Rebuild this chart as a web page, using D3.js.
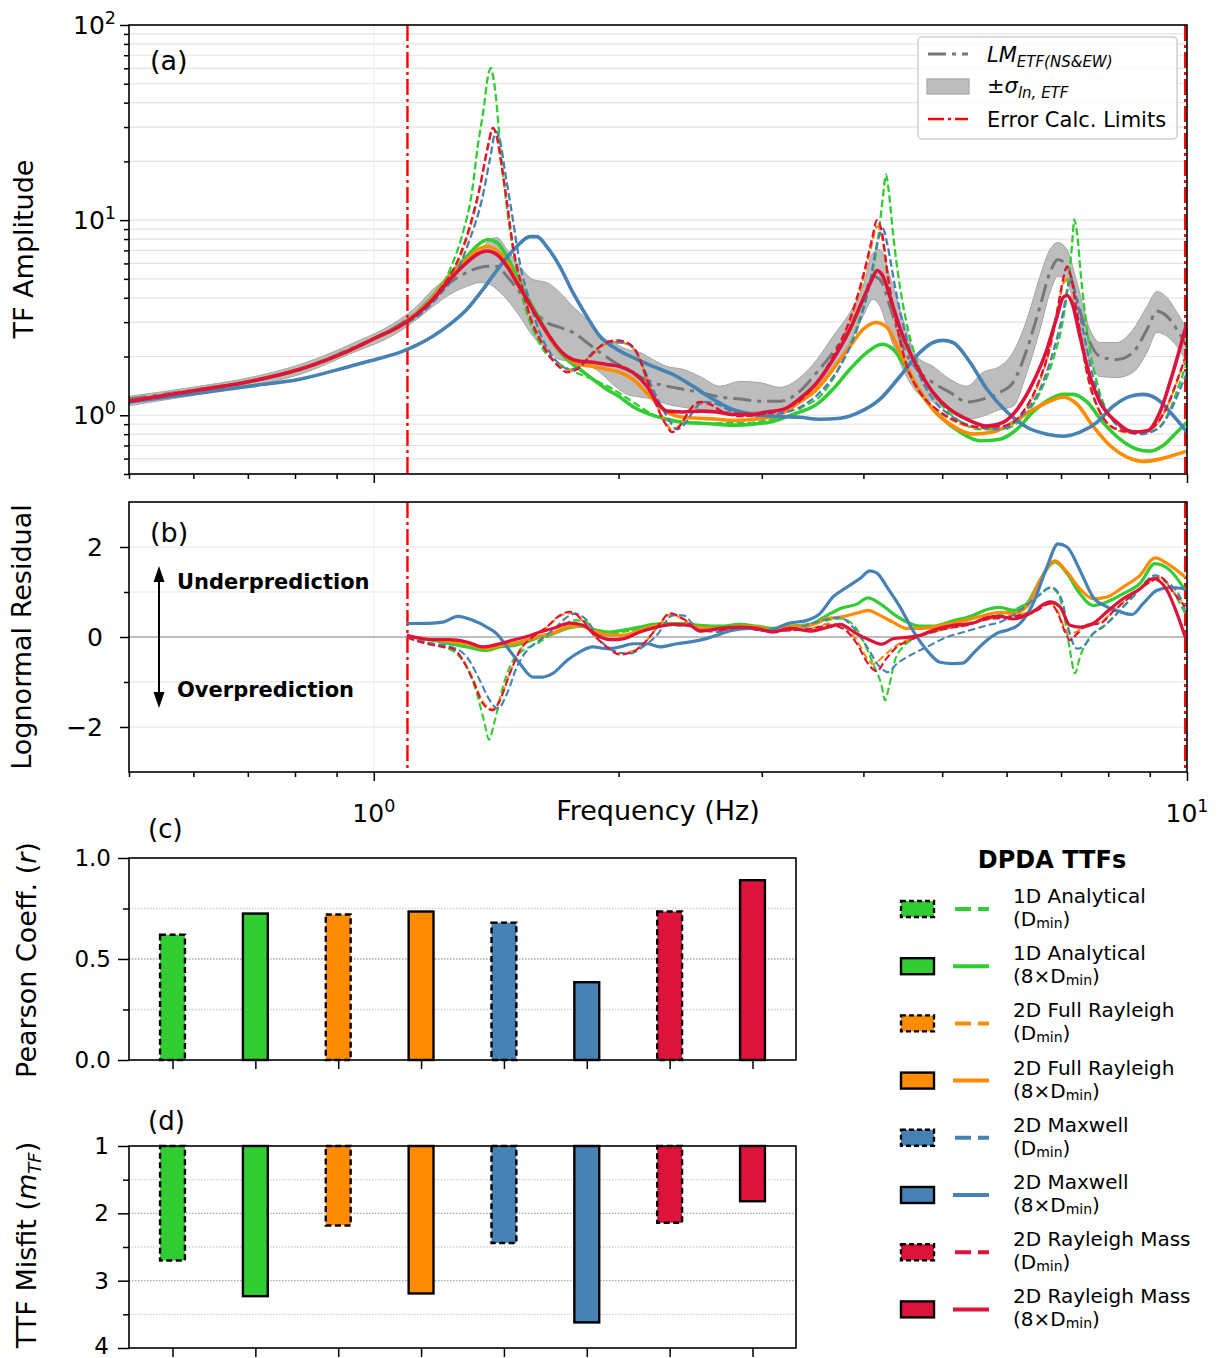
<!DOCTYPE html>
<html>
<head>
<meta charset="utf-8">
<script src="https://d3js.org/d3.v7.min.js"></script>
<style>
body { margin: 0; background: #fff; }
svg { font-family: "DejaVu Sans", sans-serif; }
</style>
</head>
<body>
<svg id="chart" width="1218" height="1358"></svg>
<script>
// ---------- data ----------
// measured ETF: lognormal median and +/- sigma band
const lmFreq = [0.5,0.611,0.704,0.811,0.934,1.076,1.129,1.182,1.240,1.301,1.350,1.389,1.417,1.458,1.512,1.569,1.632,1.693,1.757,1.828,1.897,1.968,2.047,2.124,2.204,2.293,2.399,2.518,2.665,2.821,2.985,3.158,3.342,3.507,3.670,3.850,3.995,4.110,4.193,4.313,4.474,4.655,4.871,5.111,5.363,5.612,5.888,6.109,6.356,6.595,6.784,6.940,7.120,7.323,7.598,7.816,8.201,8.583,8.929,9.186,9.450,9.721,10];
const lmMedian = [1.21,1.36,1.49,1.72,2.18,2.92,3.36,4.06,4.79,5.39,5.72,5.80,5.80,5.15,4.26,3.48,2.99,2.82,2.66,2.36,2.10,1.89,1.72,1.58,1.47,1.41,1.36,1.31,1.24,1.21,1.18,1.18,1.33,1.66,2.10,2.85,3.92,5.15,4.96,3.61,2.25,1.72,1.47,1.31,1.17,1.21,1.31,1.47,2.18,3.61,5.39,6.28,5.80,3.92,2.36,2.00,1.93,2.10,2.75,3.41,3.21,2.75,2.25];
const sigmaHi = [1.25,1.41,1.56,1.82,2.30,3.10,3.61,4.41,5.15,6.06,6.81,7.95,8.14,7.07,5.80,4.96,4.79,4.26,3.61,3.10,2.54,2.36,2.18,2.10,1.93,1.78,1.72,1.58,1.41,1.49,1.47,1.39,1.56,1.93,2.54,3.36,4.57,6.81,7.07,5.15,3.10,2.00,1.78,1.53,1.41,1.66,1.78,2.10,3.10,5.15,7.07,7.67,7.07,4.79,2.75,2.36,2.36,2.75,3.61,4.31,4.01,3.36,2.75];
const sigmaLo = [1.12,1.28,1.41,1.62,2.06,2.69,3.10,3.61,4.16,4.57,4.79,4.68,4.41,3.92,3.21,2.54,2.18,1.93,1.89,1.82,1.66,1.44,1.28,1.24,1.21,1.14,1.10,1.07,1.04,1.05,1.04,1.05,1.17,1.41,1.78,2.36,3.21,3.92,3.61,2.54,1.72,1.31,1.17,1.07,0.954,0.99,1.07,1.11,1.66,2.75,4.26,5.15,4.79,3.21,1.87,1.58,1.56,1.66,2.10,2.66,2.54,2.25,1.87];

// theoretical TFs [freq Hz, amplitude]
const tfLow = [[0.5,1.18],[0.611,1.35],[0.704,1.49],[0.811,1.72],[0.934,2.15],[1.017,2.55],[1.076,2.86]];

const tf1DDmin = tfLow.concat([[1.139,3.28],[1.206,4.41],[1.251,6.06],[1.287,8.63],[1.320,13.8],[1.342,23.8],[1.366,38.1],[1.381,54.2],[1.393,60.2],[1.401,55.4],[1.417,38.1],[1.429,24.9],[1.449,14.3],[1.470,8.95],[1.499,5.58],[1.534,3.61],[1.569,2.75],[1.614,2.18],[1.679,1.87],[1.757,1.68],[1.859,1.53],[1.968,1.36],[2.082,1.17],[2.204,1.01],[2.332,0.93],[2.468,0.92],[2.642,0.91],[2.821,0.91],[3.044,0.94],[3.277,1.01],[3.342,1.08],[3.537,1.25],[3.743,1.78],[3.927,2.85],[4.075,4.79],[4.169,7.95],[4.228,13.2],[4.264,17.1],[4.300,13.8],[4.349,8.63],[4.436,4.57],[4.539,2.75],[4.695,1.72],[4.926,1.21],[5.213,0.954],[5.564,0.848],[5.940,0.848],[6.284,0.977],[6.595,1.31],[6.843,1.93],[7.040,3.10],[7.160,5.15],[7.241,8.63],[7.262,10.1],[7.323,8.63],[7.407,5.15],[7.534,2.75],[7.750,1.47],[8.041,0.99],[8.438,0.848],[8.829,0.82],[9.186,0.848],[9.531,1.07],[9.804,1.47],[10,1.87]]);

const tf1D8 = tfLow.concat([[1.182,4.06],[1.240,5.26],[1.301,6.50],[1.350,7.59],[1.381,7.95],[1.417,7.67],[1.458,6.50],[1.499,5.15],[1.543,4.06],[1.600,3.10],[1.660,2.36],[1.728,1.93],[1.792,1.72],[1.859,1.53],[1.934,1.36],[2.007,1.24],[2.082,1.11],[2.186,1.01],[2.293,0.954],[2.399,0.92],[2.518,0.91],[2.642,0.90],[2.764,0.89],[2.926,0.90],[3.096,0.93],[3.277,1.01],[3.507,1.14],[3.670,1.36],[3.850,1.72],[4.041,2.10],[4.216,2.31],[4.349,2.18],[4.526,1.72],[4.735,1.25],[4.968,0.99],[5.258,0.82],[5.564,0.74],[5.888,0.754],[6.179,0.848],[6.465,1.04],[6.784,1.21],[7.040,1.28],[7.241,1.28],[7.534,1.17],[7.883,0.92],[8.272,0.754],[8.680,0.67],[9.006,0.655],[9.344,0.70],[9.721,0.82],[10,0.92]]);

const tfFRDmin = tfLow.concat([[1.139,3.38],[1.206,4.35],[1.265,5.9],[1.312,9.0],[1.350,14.5],[1.381,23.5],[1.401,29.5],[1.417,26.5],[1.437,18.6],[1.458,12.2],[1.483,7.3],[1.521,4.6],[1.556,3.25],[1.600,2.48],[1.646,2.03],[1.693,1.79],[1.728,1.70],[1.777,1.75],[1.844,2.0],[1.913,2.28],[1.990,2.38],[2.047,2.32],[2.106,2.08],[2.167,1.55],[2.229,1.13],[2.293,0.90],[2.326,0.84],[2.379,0.89],[2.448,1.06],[2.518,1.15],[2.591,1.13],[2.687,1.04],[2.821,0.99],[2.985,1.0],[3.185,1.06],[3.342,1.17],[3.507,1.44],[3.670,1.95],[3.850,3.0],[3.995,4.9],[4.098,7.6],[4.157,9.3],[4.216,8.2],[4.288,5.0],[4.399,2.8],[4.526,1.76],[4.695,1.30],[4.926,1.06],[5.213,0.92],[5.564,0.86],[5.940,0.87],[6.284,1.02],[6.539,1.38],[6.784,2.2],[6.940,3.5],[7.040,4.7],[7.140,5.0],[7.220,4.6],[7.323,3.3],[7.534,1.64],[7.816,1.03],[8.201,0.84],[8.583,0.81],[9.006,0.84],[9.450,1.10],[9.804,1.64],[10,2.05]]);

const tfFR8 = tfLow.concat([[1.182,4.01],[1.240,5.15],[1.301,6.28],[1.350,7.14],[1.381,7.32],[1.417,6.97],[1.458,6.06],[1.499,4.85],[1.543,3.92],[1.600,3.03],[1.660,2.36],[1.728,1.98],[1.792,1.82],[1.859,1.78],[1.934,1.72],[2.007,1.66],[2.082,1.53],[2.186,1.25],[2.293,1.04],[2.399,0.977],[2.518,0.965],[2.642,0.954],[2.764,0.94],[2.926,0.954],[3.096,0.98],[3.185,1.03],[3.342,1.17],[3.507,1.36],[3.670,1.72],[3.850,2.25],[3.995,2.75],[4.145,2.99],[4.276,2.82],[4.436,2.10],[4.655,1.41],[4.871,1.07],[5.155,0.88],[5.455,0.80],[5.773,0.82],[6.109,0.92],[6.465,1.07],[6.784,1.18],[7.040,1.24],[7.323,1.14],[7.663,0.88],[8.041,0.70],[8.438,0.61],[8.829,0.58],[9.265,0.596],[9.721,0.632],[10,0.655]]);

const tfMXDmin = tfLow.concat([[1.139,3.28],[1.206,4.16],[1.265,5.45],[1.312,7.95],[1.358,12.7],[1.389,20.4],[1.413,28.4],[1.429,25.8],[1.449,18.1],[1.478,10.9],[1.512,6.06],[1.556,3.78],[1.600,2.66],[1.646,2.10],[1.693,1.82],[1.743,1.72],[1.792,1.78],[1.859,2.10],[1.952,2.36],[2.024,2.36],[2.082,2.23],[2.142,1.78],[2.204,1.36],[2.293,0.99],[2.359,0.848],[2.399,0.88],[2.468,1.04],[2.540,1.17],[2.642,1.14],[2.764,1.04],[2.926,0.99],[3.096,1.01],[3.342,1.10],[3.537,1.31],[3.743,1.78],[3.927,2.75],[4.075,4.79],[4.169,7.95],[4.228,9.04],[4.276,7.67],[4.374,4.57],[4.500,2.66],[4.655,1.72],[4.871,1.21],[5.155,0.977],[5.517,0.868],[5.888,0.848],[6.231,0.977],[6.595,1.36],[6.843,2.10],[7.040,3.36],[7.140,4.57],[7.200,4.85],[7.282,4.26],[7.448,2.75],[7.663,1.58],[7.973,1.04],[8.343,0.848],[8.754,0.80],[9.186,0.848],[9.531,1.04],[9.804,1.36],[10,1.66]]);

const tfMX8 = [[0.5,1.17],[0.611,1.30],[0.704,1.41],[0.811,1.53],[0.934,1.78],[1.017,1.96],[1.076,2.10],[1.182,2.54],[1.240,2.92],[1.301,3.48],[1.362,4.41],[1.429,5.80],[1.499,7.32],[1.556,8.23],[1.587,8.23],[1.632,7.32],[1.693,5.80],[1.757,4.26],[1.828,3.21],[1.897,2.54],[1.990,2.18],[2.082,1.98],[2.204,1.78],[2.332,1.62],[2.468,1.41],[2.612,1.21],[2.764,1.07],[2.926,1.01],[3.096,0.99],[3.342,0.977],[3.537,0.954],[3.743,0.965],[3.961,1.04],[4.193,1.21],[4.436,1.58],[4.695,2.10],[4.871,2.36],[5.011,2.42],[5.155,2.36],[5.409,1.87],[5.675,1.36],[6.007,1.04],[6.356,0.868],[6.727,0.80],[7.040,0.781],[7.386,0.82],[7.750,0.92],[8.110,1.11],[8.510,1.25],[8.829,1.28],[9.186,1.21],[9.531,1.04],[10,0.82]];

const tfRMDmin = tfLow.concat([[1.139,3.41],[1.206,4.41],[1.265,6.06],[1.312,9.27],[1.350,14.8],[1.381,23.8],[1.401,29.7],[1.417,26.8],[1.437,18.8],[1.458,12.3],[1.483,7.32],[1.521,4.57],[1.556,3.21],[1.600,2.45],[1.646,2.00],[1.693,1.76],[1.728,1.66],[1.777,1.72],[1.844,2.00],[1.913,2.31],[1.990,2.42],[2.047,2.36],[2.106,2.10],[2.167,1.53],[2.229,1.11],[2.293,0.88],[2.326,0.82],[2.379,0.88],[2.448,1.07],[2.518,1.17],[2.591,1.14],[2.687,1.04],[2.821,0.99],[2.985,1.01],[3.185,1.07],[3.342,1.19],[3.507,1.47],[3.670,2.00],[3.850,3.10],[3.995,5.15],[4.098,7.95],[4.157,10.0],[4.216,8.63],[4.288,5.15],[4.399,2.85],[4.526,1.78],[4.695,1.31],[4.926,1.07],[5.213,0.93],[5.564,0.868],[5.940,0.88],[6.284,1.04],[6.539,1.41],[6.784,2.25],[6.940,3.61],[7.040,4.96],[7.120,5.80],[7.200,5.15],[7.323,3.36],[7.534,1.66],[7.816,1.04],[8.201,0.848],[8.583,0.82],[9.006,0.848],[9.450,1.11],[9.804,1.66],[10,2.10]]);

const tfRM8 = tfLow.concat([[1.182,3.92],[1.240,4.96],[1.301,6.06],[1.350,6.80],[1.377,6.95],[1.417,6.66],[1.458,5.80],[1.499,4.79],[1.543,3.92],[1.587,3.21],[1.632,2.66],[1.679,2.25],[1.728,2.00],[1.792,1.89],[1.859,1.87],[1.934,1.82],[2.007,1.78],[2.082,1.66],[2.167,1.41],[2.229,1.17],[2.293,1.05],[2.399,1.04],[2.518,1.05],[2.642,1.04],[2.764,1.01],[2.901,1.01],[3.044,1.04],[3.185,1.07],[3.342,1.22],[3.507,1.47],[3.670,1.93],[3.850,2.75],[3.995,3.92],[4.098,4.96],[4.157,5.52],[4.228,5.15],[4.349,3.61],[4.474,2.54],[4.655,1.78],[4.871,1.31],[5.111,1.07],[5.363,0.954],[5.675,0.88],[5.940,0.92],[6.179,1.07],[6.465,1.47],[6.727,2.18],[6.921,3.21],[7.040,4.01],[7.120,4.11],[7.220,3.78],[7.386,2.54],[7.598,1.58],[7.816,1.17],[8.201,0.92],[8.583,0.82],[8.929,0.83],[9.265,1.04],[9.612,1.66],[10,2.99]]);

// lognormal residuals [freq Hz, residual]
const res1DDmin = [[1.098,0],[1.162,-0.11],[1.216,-0.22],[1.265,-0.37],[1.301,-0.67],[1.339,-1.26],[1.369,-1.93],[1.385,-2.28],[1.409,-1.85],[1.441,-1.11],[1.483,-0.52],[1.525,-0.30],[1.587,-0.15],[1.632,0],[1.693,0.15],[1.757,0.37],[1.807,0.37],[1.881,0.11],[1.934,0.04],[1.990,0.09],[2.082,0.15],[2.204,0.24],[2.332,0.26],[2.518,0.23],[2.764,0.24],[3.096,0.16],[3.342,0.19],[3.608,0.37],[3.743,0.41],[3.884,0.28],[3.995,-0.07],[4.110,-0.59],[4.216,-1.11],[4.252,-1.41],[4.300,-1.11],[4.374,-0.52],[4.474,-0.22],[4.603,-0.04],[4.789,0.07],[5.068,0.19],[5.363,0.30],[5.675,0.41],[5.888,0.50],[6.231,0.67],[6.539,0.89],[6.784,1.10],[6.940,0.96],[7.079,0.37],[7.180,-0.30],[7.282,-0.81],[7.386,-0.44],[7.598,0],[7.883,0.22],[8.201,0.52],[8.583,0.89],[9.082,1.33],[9.450,1.19],[9.804,0.74],[9.95,0.52]];
const res1D8 = [[1.098,0],[1.182,-0.07],[1.240,-0.15],[1.301,-0.22],[1.377,-0.30],[1.429,-0.22],[1.483,-0.19],[1.543,-0.11],[1.600,0],[1.660,0.07],[1.728,0.19],[1.807,0.24],[1.881,0.15],[1.952,0.11],[2.024,0.15],[2.124,0.22],[2.204,0.28],[2.293,0.30],[2.399,0.30],[2.518,0.26],[2.665,0.24],[2.821,0.28],[2.958,0.24],[3.096,0.19],[3.249,0.24],[3.438,0.28],[3.608,0.48],[3.743,0.63],[3.927,0.73],[4.052,0.87],[4.193,0.74],[4.349,0.52],[4.526,0.33],[4.695,0.24],[4.871,0.24],[5.155,0.36],[5.455,0.48],[5.675,0.61],[5.888,0.66],[6.109,0.59],[6.356,0.74],[6.595,1.26],[6.880,1.67],[7.120,1.41],[7.386,0.96],[7.663,0.70],[7.973,0.78],[8.343,0.96],[8.754,1.19],[9.134,1.63],[9.531,1.48],[9.95,1.04]];
const resFRDmin = [[1.098,-0.01],[1.162,-0.14],[1.216,-0.21],[1.251,-0.25],[1.287,-0.50],[1.324,-0.93],[1.362,-1.44],[1.401,-1.60],[1.429,-1.38],[1.470,-0.80],[1.512,-0.30],[1.569,0],[1.632,0.22],[1.693,0.46],[1.743,0.53],[1.807,0.36],[1.859,0.07],[1.934,-0.20],[2.007,-0.36],[2.082,-0.31],[2.167,-0.07],[2.248,0.28],[2.313,0.50],[2.399,0.40],[2.518,0.17],[2.665,0.15],[2.821,0.22],[3.044,0.14],[3.277,0.16],[3.467,0.20],[3.639,0.30],[3.775,0.24],[3.927,-0.08],[4.052,-0.50],[4.110,-0.60],[4.193,-0.50],[4.252,-0.40],[4.399,-0.18],[4.564,-0.05],[4.789,0.08],[5.068,0.20],[5.363,0.27],[5.675,0.40],[5.888,0.45],[6.231,0.50],[6.539,0.62],[6.784,0.76],[6.940,0.56],[7.079,0.18],[7.180,0.07],[7.323,0.12],[7.534,0.28],[7.816,0.32],[8.110,0.58],[8.510,0.90],[9.006,1.22],[9.265,1.32],[9.612,1.02],[9.95,0.70]];
const resFR8 = [[1.098,0.02],[1.182,-0.06],[1.240,-0.10],[1.301,-0.15],[1.377,-0.26],[1.429,-0.19],[1.483,-0.15],[1.543,-0.07],[1.600,0.02],[1.660,0.09],[1.728,0.22],[1.807,0.26],[1.881,0.11],[1.952,0.04],[2.024,0.04],[2.124,0.15],[2.204,0.24],[2.293,0.28],[2.399,0.28],[2.518,0.21],[2.665,0.19],[2.821,0.24],[2.958,0.22],[3.096,0.16],[3.249,0.22],[3.438,0.26],[3.608,0.41],[3.743,0.44],[3.927,0.53],[4.052,0.59],[4.193,0.48],[4.349,0.33],[4.526,0.19],[4.695,0.19],[4.871,0.22],[5.155,0.31],[5.455,0.41],[5.675,0.50],[5.888,0.55],[6.109,0.52],[6.356,0.68],[6.595,1.26],[6.880,1.69],[7.120,1.44],[7.386,1.07],[7.663,0.85],[7.973,0.89],[8.343,1.11],[8.754,1.37],[9.134,1.76],[9.531,1.59],[9.95,1.33]];
const resMXDmin = [[1.098,-0.01],[1.162,-0.13],[1.240,-0.21],[1.301,-0.44],[1.350,-0.96],[1.389,-1.41],[1.421,-1.59],[1.458,-1.26],[1.499,-0.67],[1.543,-0.30],[1.600,-0.07],[1.660,0.15],[1.728,0.44],[1.767,0.52],[1.828,0.37],[1.897,-0.07],[1.968,-0.30],[2.065,-0.37],[2.142,-0.22],[2.229,0.04],[2.332,0.48],[2.399,0.48],[2.518,0.15],[2.665,0.11],[2.876,0.19],[3.096,0.13],[3.342,0.22],[3.567,0.37],[3.743,0.43],[3.884,0.22],[4.041,-0.22],[4.193,-0.67],[4.288,-0.78],[4.399,-0.59],[4.564,-0.41],[4.789,-0.22],[5.068,0],[5.363,0.13],[5.675,0.26],[5.888,0.33],[6.231,0.59],[6.539,0.89],[6.823,1.10],[7.020,0.81],[7.140,0.22],[7.323,-0.26],[7.448,-0.22],[7.663,0.07],[7.973,0.30],[8.343,0.67],[8.754,1.07],[9.134,1.37],[9.450,1.22],[9.804,0.89],[9.95,0.59]];
const resMX8 = [[1.098,0.30],[1.182,0.31],[1.216,0.33],[1.269,0.46],[1.324,0.37],[1.377,0.22],[1.417,0.07],[1.458,-0.22],[1.512,-0.59],[1.569,-0.89],[1.614,-0.89],[1.660,-0.81],[1.728,-0.52],[1.792,-0.33],[1.859,-0.22],[1.934,-0.26],[2.007,-0.22],[2.082,-0.15],[2.167,-0.15],[2.248,-0.22],[2.359,-0.15],[2.448,-0.11],[2.518,-0.07],[2.612,0.01],[2.764,0.15],[2.901,0.19],[3.044,0.15],[3.249,0.31],[3.41,0.37],[3.537,0.52],[3.670,0.89],[3.82,1.11],[3.961,1.30],[4.075,1.47],[4.157,1.42],[4.276,1.11],[4.436,0.67],[4.60,0.15],[4.79,-0.30],[4.968,-0.56],[5.155,-0.59],[5.30,-0.58],[5.455,-0.37],[5.675,-0.07],[5.888,0.11],[6.007,0.15],[6.231,0.30],[6.465,0.74],[6.727,1.56],[6.940,2.07],[7.120,2.00],[7.386,1.48],[7.663,0.89],[7.973,0.67],[8.272,0.56],[8.56,0.50],[8.829,0.74],[9.186,1.04],[9.531,1.10],[9.95,1.07]];
const resRMDmin = [[1.098,-0.01],[1.162,-0.15],[1.216,-0.22],[1.251,-0.26],[1.287,-0.52],[1.324,-0.96],[1.362,-1.48],[1.401,-1.63],[1.429,-1.41],[1.470,-0.81],[1.512,-0.30],[1.569,0],[1.632,0.22],[1.693,0.48],[1.743,0.56],[1.807,0.37],[1.859,0.07],[1.934,-0.22],[2.007,-0.39],[2.082,-0.33],[2.167,-0.07],[2.248,0.30],[2.313,0.53],[2.399,0.41],[2.518,0.15],[2.665,0.15],[2.821,0.22],[3.044,0.13],[3.277,0.15],[3.467,0.19],[3.639,0.26],[3.775,0.19],[3.927,-0.15],[4.052,-0.59],[4.157,-0.76],[4.252,-0.52],[4.399,-0.22],[4.564,-0.07],[4.789,0.07],[5.068,0.19],[5.363,0.26],[5.675,0.39],[5.888,0.42],[6.231,0.48],[6.539,0.59],[6.784,0.74],[6.940,0.52],[7.079,0.11],[7.180,-0.07],[7.323,0.07],[7.534,0.26],[7.816,0.30],[8.110,0.56],[8.510,0.89],[9.006,1.22],[9.265,1.33],[9.612,1.00],[9.95,0.67]];
const resRM8 = [[1.098,0.04],[1.182,-0.06],[1.240,-0.06],[1.301,-0.11],[1.362,-0.22],[1.429,-0.15],[1.483,-0.07],[1.543,0.01],[1.600,0.11],[1.660,0.19],[1.743,0.31],[1.807,0.26],[1.881,0.04],[1.952,-0.06],[2.024,-0.04],[2.124,0.11],[2.229,0.22],[2.332,0.28],[2.448,0.26],[2.518,0.13],[2.665,0.19],[2.821,0.22],[2.958,0.19],[3.096,0.11],[3.249,0.19],[3.438,0.13],[3.608,0.21],[3.743,0.28],[3.927,0.07],[4.075,-0.07],[4.216,-0.16],[4.349,-0.04],[4.526,-0.01],[4.695,0.04],[4.871,0.15],[5.155,0.26],[5.455,0.31],[5.675,0.43],[5.888,0.46],[6.109,0.40],[6.410,0.52],[6.784,0.78],[6.979,0.67],[7.180,0.26],[7.386,0.22],[7.663,0.30],[7.973,0.56],[8.343,0.85],[8.754,1.07],[9.082,1.30],[9.450,1.04],[9.721,0.52],[9.95,0.0]];

// error calculation limits (Hz)
const limitFreqs = [1.1, 9.95];

// bar panels, order: 1D Dmin, 1D 8xDmin, FR Dmin, FR 8x, MX Dmin, MX 8x, RM Dmin, RM 8x
const modelNames = ["1D Analytical", "1D Analytical", "2D Full Rayleigh", "2D Full Rayleigh", "2D Maxwell", "2D Maxwell", "2D Rayleigh Mass", "2D Rayleigh Mass"];
const isDmin = [true, false, true, false, true, false, true, false];
const pearsonR = [0.62, 0.725, 0.72, 0.735, 0.68, 0.385, 0.735, 0.89];
const misfit = [2.70, 3.23, 2.18, 3.19, 2.44, 3.62, 2.14, 1.82];
const modelColors = ["#32CD32", "#32CD32", "#FF8C00", "#FF8C00", "#4682B4", "#4682B4", "#DC143C", "#DC143C"];

const tfSeries = [tf1DDmin, tf1D8, tfFRDmin, tfFR8, tfMXDmin, tfMX8, tfRMDmin, tfRM8];
const resSeries = [res1DDmin, res1D8, resFRDmin, resFR8, resMXDmin, resMX8, resRMDmin, resRM8];

// ---------- layout ----------
const svg = d3.select("#chart");
const L = 129, R = 1187;
const aTop = 25, aBot = 474, bTop = 502, bBot = 772;
const cL = 129, cR = 796, cTop = 858, cBot = 1060, dTop = 1146, dBot = 1348;

const x = d3.scaleLog().domain([0.5, 10]).range([L, R]);
const yA = d3.scaleLog().domain([0.5, 100]).range([aBot, aTop]);
const yB = d3.scaleLinear().domain([-3, 3]).range([bBot, bTop]);
const xC = d3.scaleLinear().domain([-0.525, 7.525]).range([cL, cR]);
const yC = d3.scaleLinear().domain([0, 1]).range([cBot, cTop]);
const yD = d3.scaleLinear().domain([1, 4]).range([dTop, dBot]);

const DASH = "7.5,3.3";
const DASHDOT_RED = "16,4,3,4";

const defs = svg.append("defs");
defs.append("clipPath").attr("id", "clipA").append("rect").attr("x", L).attr("y", aTop).attr("width", R - L).attr("height", aBot - aTop);
defs.append("clipPath").attr("id", "clipB").append("rect").attr("x", L).attr("y", bTop).attr("width", R - L).attr("height", bBot - bTop);

function supText(g, px, py, base, exp, anchor, size) {
  const t = g.append("text").attr("x", px).attr("y", py).attr("text-anchor", anchor).attr("font-size", size);
  t.append("tspan").text(base);
  t.append("tspan").attr("dy", -size * 0.42).attr("font-size", size * 0.7).text(exp);
  return t;
}

function styleAxis(g) {
  g.select(".domain").remove();
  g.selectAll("line").attr("stroke", "#000").attr("stroke-width", 1.5);
}

// minor/major log ticks
const yMajorA = [1, 10, 100];
const yMinorA = [];
[0.1, 1, 10].forEach(dec => { for (let k = 2; k <= 9; k++) { const v = k * dec; if (v >= 0.5 && v < 100) yMinorA.push(+v.toFixed(2)); } });
const xMajor = [1, 10];
const xMinor = [0.5, 0.6, 0.7, 0.8, 0.9, 2, 3, 4, 5, 6, 7, 8, 9];

// ---------- panel (a) ----------
const gA = svg.append("g");
gA.selectAll(".hgrid").data(yMajorA.concat(yMinorA)).enter().append("line")
  .attr("x1", L).attr("x2", R).attr("y1", d => yA(d)).attr("y2", d => yA(d))
  .attr("stroke", "#e3e3e3").attr("stroke-width", 1.2);
gA.selectAll(".vgrid").data([1]).enter().append("line")
  .attr("x1", d => x(d)).attr("x2", d => x(d)).attr("y1", aTop).attr("y2", aBot)
  .attr("stroke", "#efefef").attr("stroke-width", 1.2);

const plotA = gA.append("g").attr("clip-path", "url(#clipA)");
const bandData = lmFreq.map((f, i) => ({ f: f, lo: sigmaLo[i], hi: sigmaHi[i], m: lmMedian[i] }));
plotA.append("path").datum(bandData)
  .attr("d", d3.area().x(d => x(d.f)).y0(d => yA(d.lo)).y1(d => yA(d.hi)).curve(d3.curveMonotoneX))
  .attr("fill", "#bdbdbd").attr("stroke", "#a5a5a5").attr("stroke-width", 1);
plotA.append("path").datum(bandData)
  .attr("d", d3.line().x(d => x(d.f)).y(d => yA(d.m)).curve(d3.curveMonotoneX))
  .attr("fill", "none").attr("stroke", "#777").attr("stroke-width", 3).attr("stroke-dasharray", "18,6,4,6");

plotA.selectAll(".lim").data(limitFreqs).enter().append("line")
  .attr("x1", d => x(d)).attr("x2", d => x(d)).attr("y1", aTop).attr("y2", aBot)
  .attr("stroke", "#FF0000").attr("stroke-width", 2.4).attr("stroke-dasharray", DASHDOT_RED);

const lineA = d3.line().x(d => x(d[0])).y(d => yA(d[1])).curve(d3.curveMonotoneX);
tfSeries.forEach((s, i) => {
  plotA.append("path").datum(s).attr("d", lineA).attr("fill", "none")
    .attr("stroke", modelColors[i])
    .attr("stroke-width", isDmin[i] ? 2.3 : 3.6)
    .attr("stroke-dasharray", isDmin[i] ? DASH : null)
    .attr("stroke-linejoin", "round");
});

// axes (a)
styleAxis(gA.append("g").attr("transform", `translate(${L},0)`).call(d3.axisLeft(yA).tickValues(yMajorA).tickSize(9).tickFormat("")));
styleAxis(gA.append("g").attr("transform", `translate(${L},0)`).call(d3.axisLeft(yA).tickValues(yMinorA).tickSize(5).tickFormat("")));
styleAxis(gA.append("g").attr("transform", `translate(0,${aBot})`).call(d3.axisBottom(x).tickValues(xMajor).tickSize(9).tickFormat("")));
styleAxis(gA.append("g").attr("transform", `translate(0,${aBot})`).call(d3.axisBottom(x).tickValues(xMinor).tickSize(5).tickFormat("")));
yMajorA.forEach(v => supText(gA, 116, yA(v) + 9, "10", String(Math.round(Math.log10(v))), "end", 25));
gA.append("rect").attr("x", L).attr("y", aTop).attr("width", R - L).attr("height", aBot - aTop)
  .attr("fill", "none").attr("stroke", "#000").attr("stroke-width", 1.6);
gA.append("text").attr("x", 150).attr("y", 70).attr("font-size", 27).text("(a)");
gA.append("text").attr("transform", "translate(33,249) rotate(-90)").attr("text-anchor", "middle").attr("font-size", 27).text("TF Amplitude");

// legend (a)
const lgA = gA.append("g");
lgA.append("rect").attr("x", 918).attr("y", 37).attr("width", 259).attr("height", 102).attr("rx", 4)
  .attr("fill", "#fff").attr("fill-opacity", 0.85).attr("stroke", "#cfcfcf").attr("stroke-width", 1.5);
lgA.append("line").attr("x1", 928).attr("x2", 968).attr("y1", 54).attr("y2", 54)
  .attr("stroke", "#777").attr("stroke-width", 3).attr("stroke-dasharray", "18,6,4,6");
const t1 = lgA.append("text").attr("x", 987).attr("y", 62).attr("font-size", 21).attr("font-style", "italic");
t1.append("tspan").text("LM");
t1.append("tspan").attr("dy", 5).attr("font-size", 15).text("ETF(NS&EW)");
lgA.append("rect").attr("x", 927).attr("y", 79).attr("width", 42).attr("height", 15)
  .attr("fill", "#bdbdbd").attr("stroke", "#a5a5a5").attr("stroke-width", 1.2);
const t2 = lgA.append("text").attr("x", 987).attr("y", 93).attr("font-size", 21);
t2.append("tspan").text("±");
t2.append("tspan").attr("font-style", "italic").text("σ");
t2.append("tspan").attr("dy", 5).attr("font-size", 15).attr("font-style", "italic").text("ln, ETF");
lgA.append("line").attr("x1", 928).attr("x2", 968).attr("y1", 119).attr("y2", 119)
  .attr("stroke", "#FF0000").attr("stroke-width", 2.4).attr("stroke-dasharray", DASHDOT_RED);
lgA.append("text").attr("x", 987).attr("y", 127).attr("font-size", 21).text("Error Calc. Limits");

// ---------- panel (b) ----------
const gB = svg.append("g");
gB.selectAll(".hgrid").data([-2, -1, 1, 2]).enter().append("line")
  .attr("x1", L).attr("x2", R).attr("y1", d => yB(d)).attr("y2", d => yB(d))
  .attr("stroke", "#e3e3e3").attr("stroke-width", 1.2);
gB.append("line").attr("x1", x(1)).attr("x2", x(1)).attr("y1", bTop).attr("y2", bBot)
  .attr("stroke", "#efefef").attr("stroke-width", 1.2);
gB.append("line").attr("x1", L).attr("x2", R).attr("y1", yB(0)).attr("y2", yB(0))
  .attr("stroke", "#bdbdbd").attr("stroke-width", 2);

const plotB = gB.append("g").attr("clip-path", "url(#clipB)");
plotB.selectAll(".lim").data(limitFreqs).enter().append("line")
  .attr("x1", d => x(d)).attr("x2", d => x(d)).attr("y1", bTop).attr("y2", bBot)
  .attr("stroke", "#FF0000").attr("stroke-width", 2.4).attr("stroke-dasharray", DASHDOT_RED);
const lineB = d3.line().x(d => x(d[0])).y(d => yB(d[1])).curve(d3.curveMonotoneX);
resSeries.forEach((s, i) => {
  plotB.append("path").datum(s).attr("d", lineB).attr("fill", "none")
    .attr("stroke", modelColors[i])
    .attr("stroke-width", isDmin[i] ? 2.1 : 3.2)
    .attr("stroke-dasharray", isDmin[i] ? DASH : null)
    .attr("stroke-linejoin", "round");
});

styleAxis(gB.append("g").attr("transform", `translate(${L},0)`).call(d3.axisLeft(yB).tickValues([-2, 0, 2]).tickSize(9).tickFormat("")));
styleAxis(gB.append("g").attr("transform", `translate(${L},0)`).call(d3.axisLeft(yB).tickValues([-1, 1]).tickSize(5).tickFormat("")));
styleAxis(gB.append("g").attr("transform", `translate(0,${bBot})`).call(d3.axisBottom(x).tickValues(xMajor).tickSize(9).tickFormat("")));
styleAxis(gB.append("g").attr("transform", `translate(0,${bBot})`).call(d3.axisBottom(x).tickValues(xMinor).tickSize(5).tickFormat("")));
[-2, 0, 2].forEach(v => {
  gB.append("text").attr("x", 103).attr("y", yB(v) + 9).attr("text-anchor", "end").attr("font-size", 25)
    .text(v < 0 ? "\u2212" + Math.abs(v) : String(v));
});
xMajor.forEach(v => supText(gB, x(v), 822, "10", String(Math.round(Math.log10(v))), "middle", 25));
gB.append("text").attr("x", (L + R) / 2).attr("y", 820).attr("text-anchor", "middle").attr("font-size", 27).text("Frequency (Hz)");
gB.append("rect").attr("x", L).attr("y", bTop).attr("width", R - L).attr("height", bBot - bTop)
  .attr("fill", "none").attr("stroke", "#000").attr("stroke-width", 1.6);
gB.append("text").attr("x", 150).attr("y", 542).attr("font-size", 27).text("(b)");
gB.append("text").attr("transform", "translate(31,637) rotate(-90)").attr("text-anchor", "middle").attr("font-size", 27).text("Lognormal Residual");

// under/over prediction arrow
const arrowX = 159, arrowTop = yB(1.58), arrowBot = yB(-1.58);
gB.append("line").attr("x1", arrowX).attr("x2", arrowX).attr("y1", arrowTop + 10).attr("y2", arrowBot - 10)
  .attr("stroke", "#000").attr("stroke-width", 2);
gB.append("path").attr("d", `M${arrowX},${arrowTop} L${arrowX - 5.5},${arrowTop + 16} L${arrowX + 5.5},${arrowTop + 16} Z`).attr("fill", "#000");
gB.append("path").attr("d", `M${arrowX},${arrowBot} L${arrowX - 5.5},${arrowBot - 16} L${arrowX + 5.5},${arrowBot - 16} Z`).attr("fill", "#000");
gB.append("text").attr("x", 177).attr("y", 589).attr("font-size", 21).attr("font-weight", "bold").text("Underprediction");
gB.append("text").attr("x", 177).attr("y", 697).attr("font-size", 21).attr("font-weight", "bold").text("Overprediction");

// ---------- panel (c) ----------
const idx = d3.range(pearsonR.length);
const barW = xC(0.3) - xC(0);
const gC = svg.append("g");
[[0.25, "#cfcfcf"], [0.5, "#a8a8a8"], [0.75, "#cfcfcf"]].forEach(([v, c]) => {
  gC.append("line").attr("x1", cL).attr("x2", cR).attr("y1", yC(v)).attr("y2", yC(v))
    .attr("stroke", c).attr("stroke-width", 1.3).attr("stroke-dasharray", "1.5,1.5");
});
gC.selectAll(".bar").data(idx).enter().append("rect")
  .attr("x", i => xC(i) - barW / 2).attr("width", barW)
  .attr("y", i => yC(pearsonR[i])).attr("height", i => yC(0) - yC(pearsonR[i]))
  .attr("fill", i => modelColors[i]).attr("stroke", "#000").attr("stroke-width", 2.4)
  .attr("stroke-dasharray", i => isDmin[i] ? "6,3.5" : null);
styleAxis(gC.append("g").attr("transform", `translate(${cL},0)`).call(d3.axisLeft(yC).tickValues([0, 0.5, 1]).tickSize(11).tickFormat("")));
styleAxis(gC.append("g").attr("transform", `translate(${cL},0)`).call(d3.axisLeft(yC).tickValues([0.25, 0.75]).tickSize(6).tickFormat("")));
styleAxis(gC.append("g").attr("transform", `translate(0,${cBot})`).call(d3.axisBottom(xC).tickValues(idx).tickSize(9).tickFormat("")));
[0, 0.5, 1].forEach(v => {
  gC.append("text").attr("x", 111).attr("y", yC(v) + 8).attr("text-anchor", "end").attr("font-size", 23).text(v.toFixed(1));
});
gC.append("rect").attr("x", cL).attr("y", cTop).attr("width", cR - cL).attr("height", cBot - cTop)
  .attr("fill", "none").attr("stroke", "#000").attr("stroke-width", 1.6);
gC.append("text").attr("x", 148).attr("y", 838).attr("font-size", 26).text("(c)");
const tc = gC.append("text").attr("transform", "translate(36,960) rotate(-90)").attr("text-anchor", "middle").attr("font-size", 27);
tc.append("tspan").text("Pearson Coeff. (");
tc.append("tspan").attr("font-style", "italic").text("r");
tc.append("tspan").text(")");

// ---------- panel (d) ----------
const gD = svg.append("g");
[[1.5, "#cfcfcf"], [2, "#a8a8a8"], [2.5, "#cfcfcf"], [3, "#a8a8a8"], [3.5, "#cfcfcf"]].forEach(([v, c]) => {
  gD.append("line").attr("x1", cL).attr("x2", cR).attr("y1", yD(v)).attr("y2", yD(v))
    .attr("stroke", c).attr("stroke-width", 1.3).attr("stroke-dasharray", "1.5,1.5");
});
gD.selectAll(".bar").data(idx).enter().append("rect")
  .attr("x", i => xC(i) - barW / 2).attr("width", barW)
  .attr("y", yD(1)).attr("height", i => yD(misfit[i]) - yD(1))
  .attr("fill", i => modelColors[i]).attr("stroke", "#000").attr("stroke-width", 2.4)
  .attr("stroke-dasharray", i => isDmin[i] ? "6,3.5" : null);
styleAxis(gD.append("g").attr("transform", `translate(${cL},0)`).call(d3.axisLeft(yD).tickValues([1, 2, 3, 4]).tickSize(11).tickFormat("")));
styleAxis(gD.append("g").attr("transform", `translate(${cL},0)`).call(d3.axisLeft(yD).tickValues([1.5, 2.5, 3.5]).tickSize(6).tickFormat("")));
styleAxis(gD.append("g").attr("transform", `translate(0,${dBot})`).call(d3.axisBottom(xC).tickValues(idx).tickSize(9).tickFormat("")));
[1, 2, 3, 4].forEach(v => {
  gD.append("text").attr("x", 109).attr("y", Math.min(yD(v) + 8, 1354)).attr("text-anchor", "end").attr("font-size", 23).text(String(v));
});
gD.append("rect").attr("x", cL).attr("y", dTop).attr("width", cR - cL).attr("height", dBot - dTop)
  .attr("fill", "none").attr("stroke", "#000").attr("stroke-width", 1.6);
gD.append("text").attr("x", 148).attr("y", 1130).attr("font-size", 26).text("(d)");
const td = gD.append("text").attr("transform", "translate(36,1245) rotate(-90)").attr("text-anchor", "middle").attr("font-size", 27);
td.append("tspan").text("TTF Misfit (");
td.append("tspan").attr("font-style", "italic").text("m");
td.append("tspan").attr("font-style", "italic").attr("font-size", 18).attr("dy", 5).text("TF");
td.append("tspan").attr("dy", -5).text(")");

// ---------- legend (DPDA TTFs) ----------
const gL = svg.append("g");
gL.append("text").attr("x", 1052).attr("y", 868).attr("text-anchor", "middle")
  .attr("font-size", 24).attr("font-weight", "bold").text("DPDA TTFs");
idx.forEach(i => {
  const ry = 909 + i * 57.2;
  gL.append("rect").attr("x", 901).attr("y", ry - 8).attr("width", 33).attr("height", 16)
    .attr("fill", modelColors[i]).attr("stroke", "#000").attr("stroke-width", 2.4)
    .attr("stroke-dasharray", isDmin[i] ? "5,3" : null);
  gL.append("line").attr("x1", isDmin[i] ? 955 : 953).attr("x2", 989).attr("y1", ry).attr("y2", ry)
    .attr("stroke", modelColors[i]).attr("stroke-width", 4)
    .attr("stroke-dasharray", isDmin[i] ? "16,7" : null);
  gL.append("text").attr("x", 1013).attr("y", ry - 6).attr("font-size", 20).text(modelNames[i]);
  const t = gL.append("text").attr("x", 1013).attr("y", ry + 17).attr("font-size", 20);
  t.append("tspan").text(isDmin[i] ? "(D" : "(8\u00d7D");
  t.append("tspan").attr("font-size", 14).attr("dy", 2).text("min");
  t.append("tspan").attr("dy", -2).text(")");
});
</script>
</body>
</html>
